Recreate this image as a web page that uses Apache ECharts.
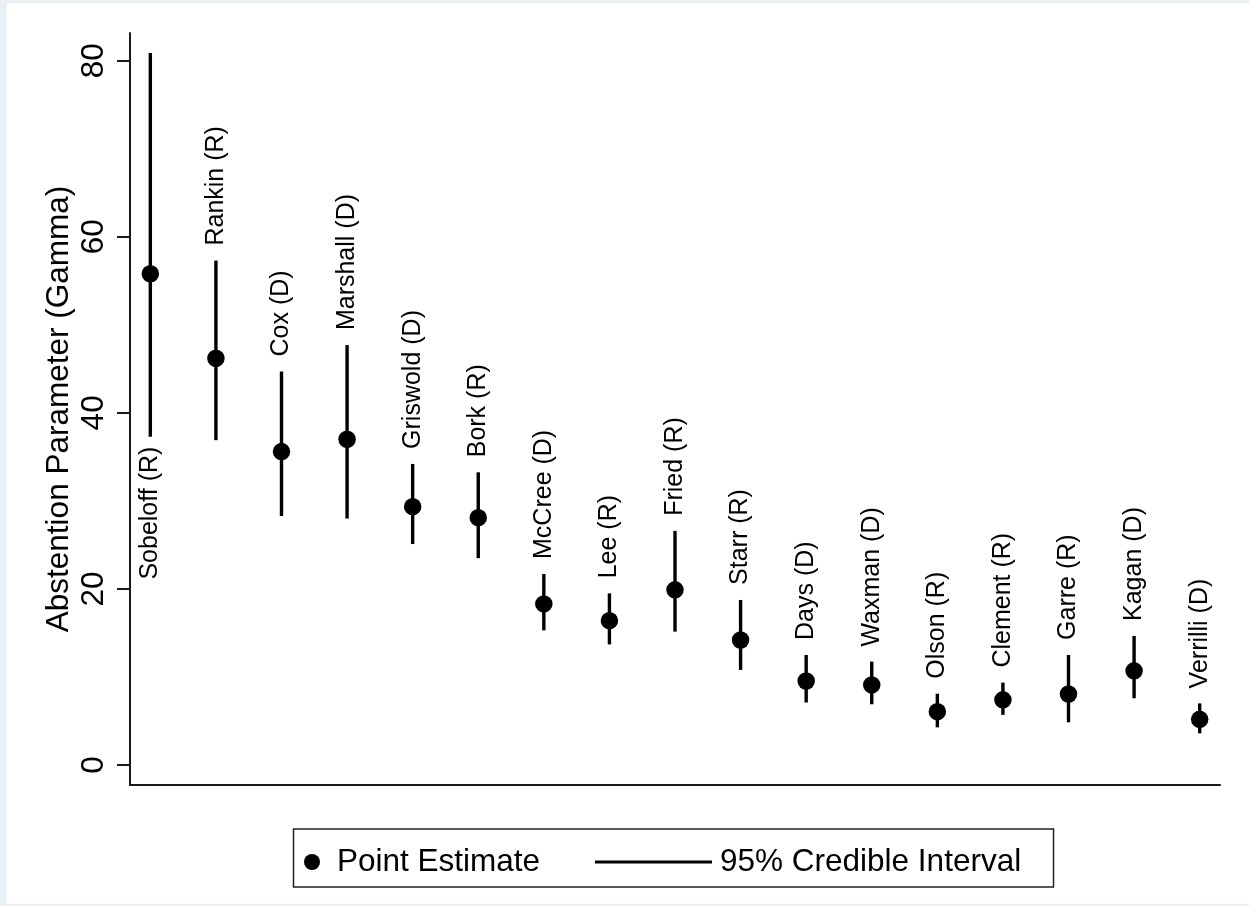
<!DOCTYPE html>
<html>
<head>
<meta charset="utf-8">
<script src="https://cdn.jsdelivr.net/npm/echarts@6/dist/echarts.min.js"></script>
<style>
  html, body { margin:0; padding:0; background:#eaf1f4; width:1249px; height:906px; overflow:hidden; }
  #bg { position:absolute; left:7px; top:3px; width:1242px; height:901px; background:#ffffff; }
  #chart { position:absolute; left:0; top:0; width:1249px; height:906px; }
</style>
</head>
<body>
<div id="bg"></div>
<div id="chart"></div>
<script>
// ---- data ----
var names = ['Sobeloff (R)','Rankin (R)','Cox (D)','Marshall (D)','Griswold (D)','Bork (R)',
             'McCree (D)','Lee (R)','Fried (R)','Starr (R)','Days (D)','Waxman (D)',
             'Olson (R)','Clement (R)','Garre (R)','Kagan (D)','Verrilli (D)'];
var estimate = [55.8, 46.2, 35.6, 37.0, 29.35, 28.1, 18.3, 16.4, 19.9, 14.2, 9.55, 9.1, 6.06, 7.4, 8.07, 10.7, 5.19];
var lower    = [37.3, 36.9, 28.3, 28.0, 25.1, 23.5, 15.3, 13.7, 15.15, 10.8, 7.1, 6.9, 4.28, 5.7, 4.85, 7.58, 3.6];
var upper    = [80.87, 57.3, 44.7, 47.7, 34.2, 33.25, 21.7, 19.5, 26.6, 18.75, 12.5, 11.75, 8.1, 9.36, 12.5, 14.66, 7.0];
var labelBelow = ['Sobeloff (R)'];
var yTicks = [0, 20, 40, 60, 80];
var yTitle = 'Abstention Parameter (Gamma)';
var legendPoint = 'Point Estimate';
var legendCI = '95% Credible Interval';

var FONT = 'Liberation Sans, Arial, Helvetica, sans-serif';

var pointData = estimate.map(function (v, i) { return [i + 1, v]; });
var ciData = names.map(function (n, i) {
  return [i + 1, lower[i], upper[i], labelBelow.indexOf(n) >= 0 ? 1 : 0];
});

var chart = echarts.init(document.getElementById('chart'), null, { renderer: 'canvas' });
chart.setOption({
  backgroundColor: 'transparent',
  animation: false,
  grid: { left: 130, right: 29, top: 33, bottom: 121, outerBoundsMode: 'none' },
  xAxis: {
    type: 'value', min: 0.69, max: 17.31,
    axisLine: { show: true, onZero: false, lineStyle: { color: '#1a1a1a', width: 2 } },
    axisTick: { show: false }, axisLabel: { show: false }, splitLine: { show: false }
  },
  yAxis: {
    type: 'value', min: -2.27, max: 83.15,
    name: yTitle, nameLocation: 'middle', nameRotate: 90, nameGap: 55, nameMoveOverlap: false,
    nameTextStyle: { fontSize: 31.5, color: '#000', fontFamily: FONT },
    axisLine: { show: true, onZero: false, lineStyle: { color: '#1a1a1a', width: 2 } },
    axisTick: { show: true, inside: false, length: 13, customValues: yTicks, lineStyle: { color: '#1a1a1a', width: 2 } },
    axisLabel: { show: true, rotate: 90, margin: 20, customValues: yTicks, fontSize: 31.5, color: '#000', fontFamily: FONT },
    splitLine: { show: false }
  },
  legend: [
    {
      data: [{ name: legendPoint, icon: 'circle', itemStyle: { color: '#000', opacity: 1 } }],
      left: 304, top: 846, padding: 0, itemWidth: 16, itemHeight: 16,
      selectedMode: false,
      textStyle: { fontSize: 31.5, color: '#000', fontFamily: FONT, padding: [0, 0, 0, 12] }
    },
    {
      data: [{ name: legendCI, icon: 'rect', itemStyle: { color: '#000', opacity: 1 } }],
      left: 595, top: 846, padding: 0, itemWidth: 117, itemHeight: 3,
      selectedMode: false,
      textStyle: { fontSize: 31.5, color: '#000', fontFamily: FONT, padding: [0, 0, 0, 3] }
    }
  ],
  graphic: [
    {
      type: 'rect', z: -1, silent: true,
      shape: { x: 293.5, y: 829, width: 760, height: 58 },
      style: { fill: 'none', stroke: '#222', lineWidth: 1.5 }
    }
  ],
  series: [
    {
      name: legendCI,
      type: 'custom',
      itemStyle: { color: '#000' },
      encode: { x: 0, y: [1, 2] },
      data: ciData,
      renderItem: function (params, api) {
        var x = api.value(0);
        var pLo = api.coord([x, api.value(1)]);
        var pHi = api.coord([x, api.value(2)]);
        var below = api.value(3);
        var name = names[params.dataIndex];
        var children = [{
          type: 'line',
          shape: { x1: pLo[0], y1: pLo[1], x2: pHi[0], y2: pHi[1] },
          style: { stroke: '#000', lineWidth: 3.4 }
        }];
        if (below) {
          children.push({
            type: 'text', x: pLo[0], y: pLo[1] + 10, rotation: Math.PI / 2,
            style: { text: name, align: 'right', verticalAlign: 'middle', fontSize: 25, fill: '#000', fontFamily: FONT }
          });
        } else {
          children.push({
            type: 'text', x: pHi[0], y: pHi[1] - 15, rotation: Math.PI / 2,
            style: { text: name, align: 'left', verticalAlign: 'middle', fontSize: 25, fill: '#000', fontFamily: FONT }
          });
        }
        return { type: 'group', children: children };
      },
      z: 2
    },
    {
      name: legendPoint,
      type: 'scatter',
      symbol: 'circle',
      symbolSize: 17.5,
      itemStyle: { color: '#000', opacity: 1 },
      data: pointData,
      z: 3
    }
  ]
});
</script>
</body>
</html>
